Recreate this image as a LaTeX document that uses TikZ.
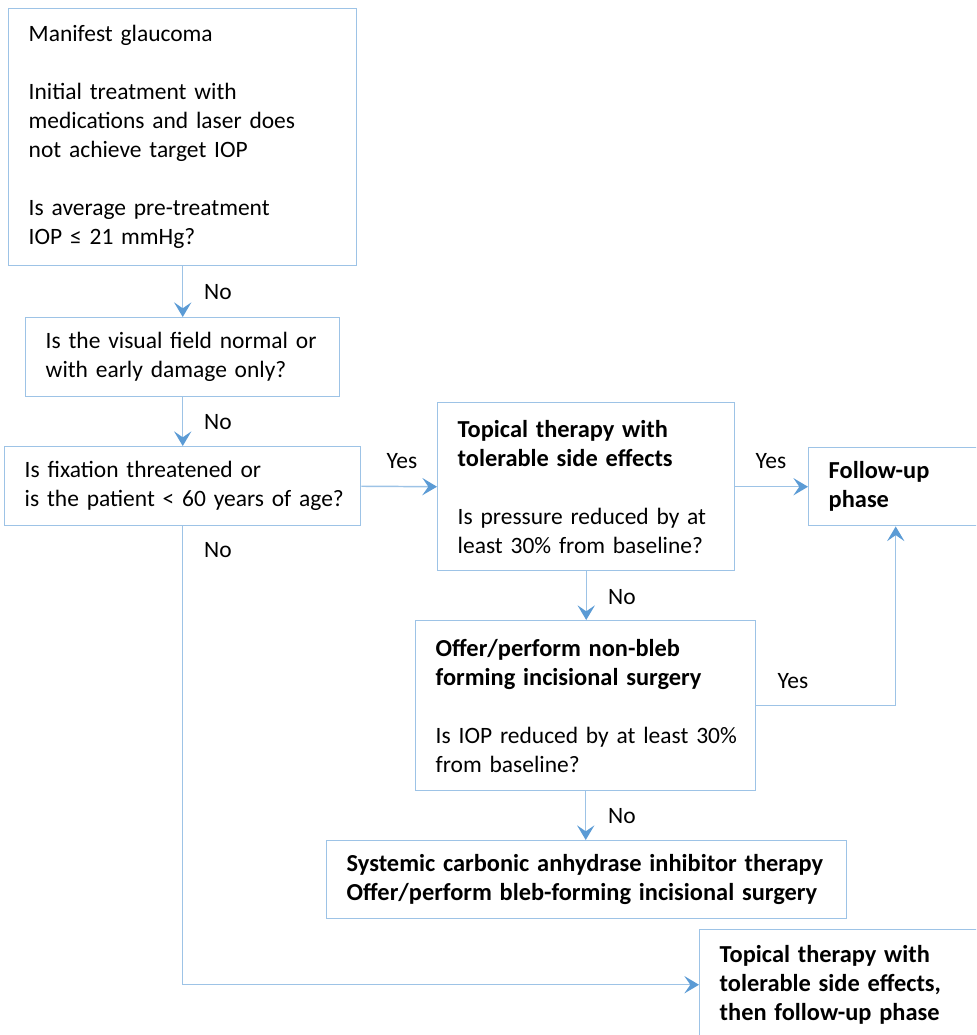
\documentclass[tikz,border=0pt]{standalone}
\usepackage{fontspec}
\setmainfont{Carlito}
\usetikzlibrary{arrows.meta}
\definecolor{boxblue}{HTML}{9DC3E6}
\definecolor{linkblue}{HTML}{5B9BD5}
% bold lines are set a little larger than the plain text
\newcommand{\boldline}[1]{{\fontsize{18.3pt}{21.75pt}\selectfont\bfseries #1}}

\begin{document}
\begin{tikzpicture}[
  x=0.75pt, y=-0.75pt,
  box/.style={draw=boxblue, line width=1.1pt, anchor=north west, align=left,
    inner xsep=7.5pt, inner ysep=0pt, font=\fontsize{17.6pt}{21.75pt}\selectfont,
    execute at begin node={\leftskip=7.5pt}},
  link/.style={draw=boxblue, line width=1.1pt,
    -{Stealth[length=11pt, width=13pt, inset=4.5pt, color=linkblue]}},
  lbl/.style={font=\fontsize{17.6pt}{21.75pt}\selectfont}
]

% Page size of the flow chart
\useasboundingbox (0,0) rectangle (976,1035);
\begin{scope}
\clip (0,0) rectangle (976,1035);

% ── Decision boxes (left column) ──
\node[box, text width=246pt, minimum height=192.75pt] (init) at (8,8)
  {Manifest glaucoma\\[21.75pt]
   Initial treatment with\\medications and laser does\\not achieve target IOP\\[21.75pt]
   Is average pre-treatment\\IOP ≤ 21 mmHg?};
\node[box, text width=220.5pt, minimum height=59.25pt] (field) at (25,317)
  {Is the visual field normal or\\with early damage only?};
\node[box, text width=252pt, minimum height=59.25pt] (fix) at (4,446)
  {Is fixation threatened or\\is the patient < 60 years of age?};

% ── Treatment boxes ──
\node[box, text width=207.75pt, minimum height=126pt] (topical) at (437,402)
  {\boldline{Topical therapy with}\\\boldline{tolerable side effects}\\[21.75pt]
   Is pressure reduced by at\\least 30\% from baseline?};
\node[box, text width=115.5pt, minimum height=58.5pt] (follow) at (808,447)
  {\boldline{Follow-up}\\\boldline{phase}};
\node[box, text width=240pt, minimum height=127.5pt] (nonbleb) at (415,620)
  {\boldline{Offer/perform non-bleb}\\\boldline{forming incisional surgery}\\[21.75pt]
   Is IOP reduced by at least 30\%\\from baseline?};
\node[box, text width=375pt, minimum height=58.5pt] (bleb) at (326,840)
  {\boldline{Systemic carbonic anhydrase inhibitor therapy}\\
   \boldline{Offer/perform bleb-forming incisional surgery}};
\node[box, text width=210pt, minimum height=82.5pt] (final) at (699,929)
  {\boldline{Topical therapy with}\\\boldline{tolerable side effects,}\\
   \boldline{then follow-up phase}};

% ── Connectors ──
\draw[link] (init.south) -- (field.north);
\draw[link] (field.south) -- (fix.north);
\draw[link] (fix.east) -- (topical.west);
\draw[link] (topical.east) -- (follow.west);
\draw[link] (topical.south) -- (topical.south |- nonbleb.north);
\draw[link] (nonbleb.east) -| (follow.south);
\draw[link] (nonbleb.south) -- (nonbleb.south |- bleb.north);
\draw[link] (fix.south) |- (final.west);

% ── Answer labels ──
\node[lbl] (no1) at (218,292) {No};
\node[lbl] (no2) at (218,422) {No};
\node[lbl] (yes1) at (402,461) {Yes};
\node[lbl] (yes2) at (771,461) {Yes};
\node[lbl] (no3) at (218,550) {No};
\node[lbl] (no4) at (622,597) {No};
\node[lbl] (yes3) at (793,681) {Yes};
\node[lbl] (no5) at (622,816) {No};
\end{scope}

\end{tikzpicture}
\end{document}
